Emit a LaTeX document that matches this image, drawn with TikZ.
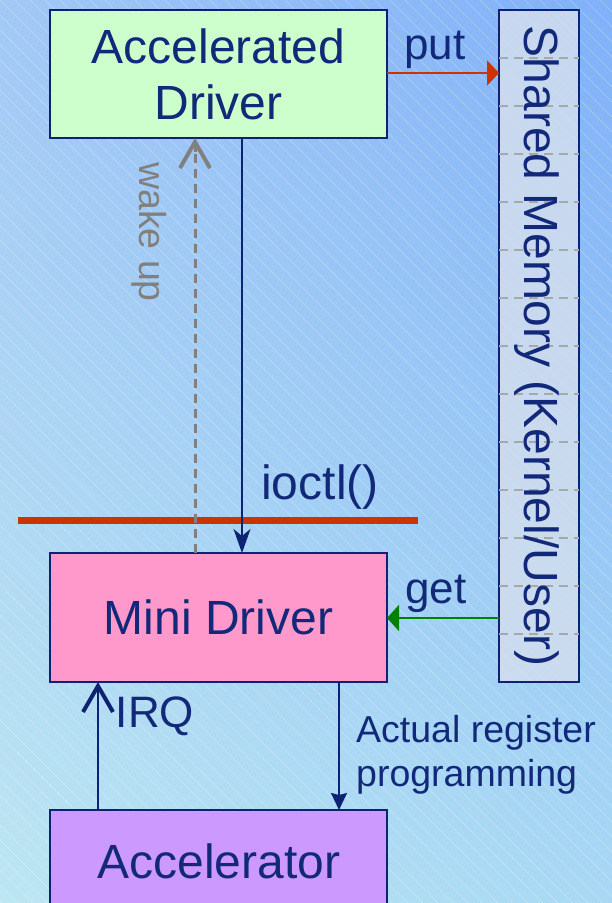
\documentclass[tikz,border=0pt]{standalone}
\usepackage{fontspec}
\setmainfont{Liberation Sans}
\usetikzlibrary{arrows.meta,shadings,calc}
\definecolor{navy}{HTML}{0E2274}
\definecolor{txtnavy}{HTML}{12297A}
\definecolor{redbar}{HTML}{CC3300}
\definecolor{greenarr}{HTML}{008000}
\definecolor{boxgreen}{HTML}{CCFFCC}
\definecolor{boxpink}{HTML}{FF99CC}
\definecolor{boxpurple}{HTML}{CC99FF}
\definecolor{boxsm}{HTML}{D2DEEE}
\definecolor{wakegray}{HTML}{808080}
\definecolor{dashgray}{HTML}{A8A8A8}
\definecolor{bgUL}{RGB}{162,200,246}
\definecolor{bgUR}{RGB}{128,176,248}
\definecolor{bgLL}{RGB}{188,230,242}
\definecolor{bgLR}{RGB}{168,216,244}
\tikzset{
  box/.style={draw=navy, line width=2pt, outer sep=0pt, inner sep=0pt,
    text=txtnavy, align=center, font=\fontsize{48}{56}\selectfont},
  lbl/.style={text=txtnavy, inner sep=0pt, font=\fontsize{44}{50}\selectfont},
  smalllbl/.style={text=txtnavy, inner sep=0pt, align=left, font=\fontsize{37.5}{44}\selectfont},
  navyarrow/.style={draw=navy, line width=2pt},
  chevron/.style={-{Straight Barb[length=26pt,width=30pt,line width=4pt]}},
}
\begin{document}
\begin{tikzpicture}[x=1pt,y=-1pt]
\useasboundingbox (0,0) rectangle (612,903);
\clip (0,0) rectangle (612,903);
% background
\shade[upper left=bgUL, upper right=bgUR, lower left=bgLL, lower right=bgLR]
  (0,0) rectangle (612,903);
\foreach \i in {-900,-885,...,615}
  \draw[white, opacity=0.3, line width=0.6pt] (\i,0) -- ++(903,903);

% boxes
\node[box, fill=boxgreen, minimum width=337pt, minimum height=128pt] (AD) at (218.5,74) {Accelerated\\Driver};
\node[box, fill=boxsm, fill opacity=0.85, text opacity=1, minimum width=80pt, minimum height=672pt] (SM) at (539,346) {};
\foreach \y in {58,106,...,634}
  \draw[dashgray, line width=2pt, dash pattern=on 9pt off 6pt] (SM.west |- 0,\y) -- (SM.east |- 0,\y);
\node[text=txtnavy, rotate=-90, inner sep=0pt, font=\fontsize{48}{56}\selectfont] (SMtext) at (537,346) {Shared Memory (Kernel/User)};
\node[box, fill=boxpink, minimum width=337pt, minimum height=129pt] (MD) at (218.5,617.5) {Mini Driver};
\node[box, fill=boxpurple, minimum width=337pt, minimum height=140pt] (AC) at (218.5,880) {};
\node[text=txtnavy, inner sep=0pt, font=\fontsize{48}{56}\selectfont] (ACtext) at (219,861) {Accelerator};

% red bar
\coordinate (barL) at (18,520);
\coordinate (barR) at (418,520);
\draw[redbar, line width=7pt] (barL) -- (barR);

% x positions of vertical connectors
\coordinate (xio) at (242,0);
\coordinate (xwake) at (195,0);
\coordinate (xirq) at (98,0);
\coordinate (xreg) at (339,0);
\coordinate (yput) at (0,73);
\coordinate (yget) at (0,618);

% ioctl
\draw[navyarrow, -{Stealth[length=24pt,width=17pt,inset=7pt]}] (xio |- AD.south) -- (xio |- MD.north);
\node[text=txtnavy, inner sep=0pt, font=\fontsize{48}{50}\selectfont] (ioctl) at (320,487) {ioctl()};

% wake up
\draw[wakegray, line width=3pt, dash pattern=on 9pt off 6pt] (xwake |- MD.north) -- ($(xwake |- AD.south)+(0,12)$);
\draw[wakegray, line width=3pt, chevron] ($(xwake |- AD.south)+(0,14)$) -- (xwake |- AD.south);
\node[text=wakegray, rotate=-90, inner sep=0pt, font=\fontsize{37.5}{44}\selectfont] (wake) at (149,232) {wake up};

% put
\draw[redbar, line width=2pt, -{Triangle[length=12pt,width=25pt]}] (AD.east |- yput) -- (SM.west |- yput);
\node[lbl] (put) at (435,50) {put};

% get
\draw[greenarr, line width=2pt, -{Triangle[length=12pt,width=26pt]}] (SM.west |- yget) -- (MD.east |- yget);
\node[lbl] (get) at (436,594) {get};

% IRQ
\draw[navyarrow, chevron] (xirq |- AC.north) -- (xirq |- MD.south);
\node[lbl] (irq) at (155,716) {IRQ};

% register programming
\draw[navyarrow, -{Stealth[length=17pt,width=16pt,inset=2pt]}] (xreg |- MD.south) -- (xreg |- AC.north);
\node[smalllbl, anchor=west] (reg) at (356,755) {Actual register\\programming};
\end{tikzpicture}
\end{document}
